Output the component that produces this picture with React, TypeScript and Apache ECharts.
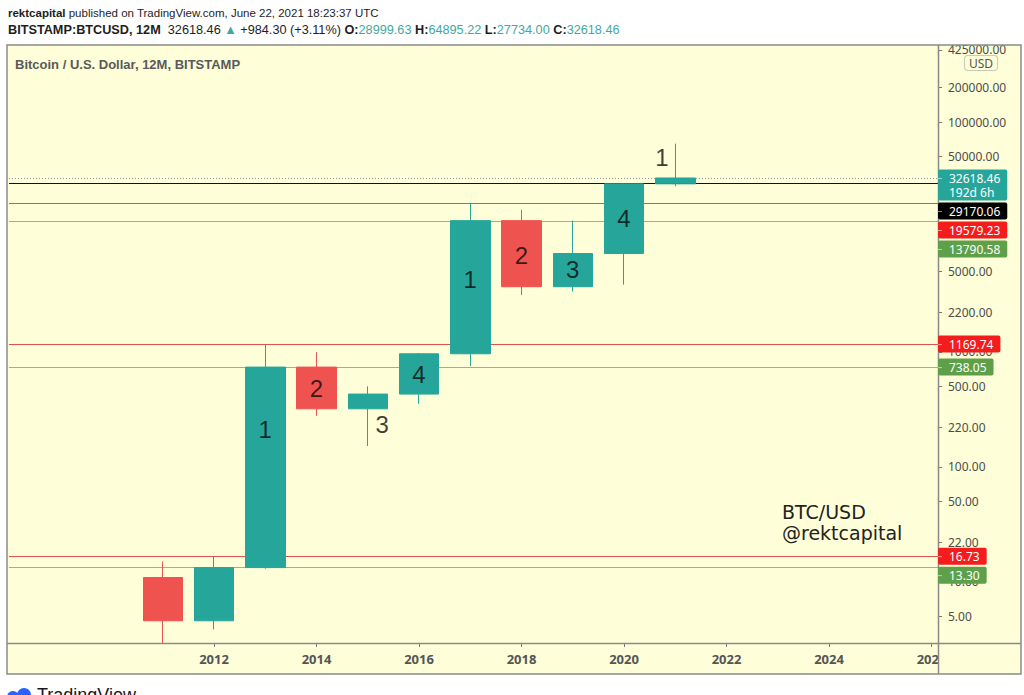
import React, { useEffect, useRef } from 'react';
import * as echarts from 'echarts';

// ---------- data ----------
const years = [2011, 2012, 2013, 2014, 2015, 2016, 2017, 2018, 2019, 2020, 2021];
const opens = [10.9, 4.58, 13.3, 738, 320, 430, 964, 13880, 3693, 7180, 28999.63];
const closes = [4.58, 13.3, 738, 320, 430, 964, 13880, 3693, 7180, 28999.63, 32618.46];
const lows = [2.0, 3.85, 13.0, 278, 152, 354, 753, 3122, 3350, 3850, 27734.0];
const highs = [15.0, 16.73, 1163, 995, 502, 980, 19666, 17252, 13880, 29300, 64895.22];

const yTickValues = [5, 10, 22, 50, 100, 220, 500, 1000, 2200, 5000, 50000, 100000, 200000, 425000];
const xTickValues = [2012, 2014, 2016, 2018, 2020, 2022, 2024, 2026];

const redLevels = [19579.23, 1169.74, 16.73];
const greenLevels = [13790.58, 738.05, 13.3];
const blackLevel = 29170.06;
const lastPrice = 32618.46;
const countdown = '192d 6h';

const annoYears = [2013, 2014, 2015.28, 2016, 2017, 2018, 2019, 2020, 2020.74];
const annoPrices = [210, 484, 235, 632, 4236, 6850, 5250, 14560, 49400];
const annoTexts = ['1', '2', '3', '4', '1', '2', '3', '4', '1'];

const headerLine1 = '{b|rektcapital} published on TradingView.com, June 22, 2021 18:23:37 UTC';
const headerLine2 =
  '{b|BITSTAMP:BTCUSD, 12M}  32618.46 {t|▲} +984.30 (+3.11%) {b|O:}{t|28999.63} {b|H:}{t|64895.22} {b|L:}{t|27734.00} {b|C:}{t|32618.46}';
const subtitle = 'Bitcoin / U.S. Dollar, 12M, BITSTAMP';
const watermark = 'BTC/USD\n@rektcapital';

// ---------- styles ----------
const YELLOW = '#fefed8';
const FRAME = '#8a8a8a';
const TEAL = '#26a69a';
const RED = '#ef5350';
const RED_LINE = '#e2504b';
const GREEN_LINE = '#8fbf6c';
const RED_BOX = '#f41c1c';
const GREEN_BOX = '#5e9f4a';
const HEAD_FONT = "'Liberation Sans', Arial, sans-serif";
const AXIS_FONT = "'Noto Sans', 'DejaVu Sans', sans-serif";

const GRID_LEFT = 9;
const GRID_RIGHT_X = 938;
const GRID_TOP = 45;
const GRID_BOTTOM_Y = 643;
const W = 1024;
const H = 695;

function levelSeries(levels: number[], color: string, type: any, z: number) {
  return {
    type: 'line',
    data: [],
    z,
    silent: true,
    markLine: {
      symbol: ['none', 'none'],
      silent: true,
      label: { show: false },
      emphasis: { disabled: true },
      lineStyle: { color, width: 1, type },
      data: levels.map((v) => ({ yAxis: v })),
    },
  };
}

export default function App() {
  const ref = useRef<HTMLDivElement>(null);

  useEffect(() => {
    const chart = echarts.init(ref.current!, undefined, { renderer: 'svg' });

    const candleData = years.map((y, i) => [y, opens[i], closes[i], lows[i], highs[i]]);
    const annoData = annoYears.map((x, i) => ({ value: [x, annoPrices[i]], name: annoTexts[i] }));

    chart.setOption({
      animation: false,
      backgroundColor: '#ffffff',
      grid: {
        left: GRID_LEFT,
        right: W - GRID_RIGHT_X,
        top: GRID_TOP,
        bottom: H - GRID_BOTTOM_Y,
      },
      xAxis: {
        type: 'value',
        z: 20,
        min: 2008,
        max: 2008 + (GRID_RIGHT_X - GRID_LEFT) / 51.25,
        splitLine: { show: false },
        axisLine: { show: false },
        axisTick: { show: true, length: 4, customValues: xTickValues, lineStyle: { color: '#777' } },
        axisLabel: {
          customValues: xTickValues,
          formatter: (v: number) => String(Math.round(v)),
          color: '#555',
          fontSize: 13,
          fontWeight: 'bold',
          fontFamily: AXIS_FONT,
          margin: 9,
        },
      },
      yAxis: {
        type: 'log',
        logBase: 10,
        min: 2.936,
        max: 468200,
        position: 'right',
        splitLine: { show: false },
        axisLine: { show: false },
        axisTick: { show: true, length: 4, customValues: yTickValues, lineStyle: { color: '#777' } },
        axisLabel: {
          customValues: yTickValues,
          formatter: (v: number) => Number(v).toFixed(2),
          color: '#4d4d4d',
          fontSize: 12,
          fontFamily: AXIS_FONT,
          margin: 10,
        },
      },
      series: [
        levelSeries(redLevels, RED_LINE, 'solid', 1),
        levelSeries(greenLevels, GREEN_LINE, 'solid', 1),
        levelSeries([blackLevel], '#111111', 'solid', 1),
        levelSeries([lastPrice], '#8a96a3', [1, 2], 1),
        {
          type: 'candlestick',
          z: 10,
          barWidth: 40,
          clip: true,
          encode: { x: 0, y: [1, 2, 3, 4] },
          data: candleData,
          itemStyle: {
            color: TEAL,
            color0: RED,
            borderColor: TEAL,
            borderColor0: RED,
            borderWidth: 1,
          },
        },
        {
          type: 'scatter',
          z: 12,
          symbol: 'circle',
          symbolSize: 1,
          itemStyle: { color: 'transparent' },
          silent: true,
          data: annoData,
          label: {
            show: true,
            position: 'inside',
            formatter: (p: any) => p.name,
            color: '#0a0a0a',
            fontSize: 24,
            fontFamily: "'Liberation Sans', Arial, sans-serif",
          },
        },
      ],
    });

    // price labels on the right scale, stacked to avoid overlap
    const labels = [
      { v: lastPrice, text: lastPrice.toFixed(2) + '\n' + countdown, bg: TEAL, lines: 2 },
      { v: blackLevel, text: blackLevel.toFixed(2), bg: '#000000', lines: 1 },
      ...redLevels.map((v) => ({ v, text: v.toFixed(2), bg: RED_BOX, lines: 1 })),
      ...greenLevels.map((v) => ({ v, text: v.toFixed(2), bg: GREEN_BOX, lines: 1 })),
    ].sort((a, b) => b.v - a.v);

    const labelEls: any[] = [];
    let prevBottom = -Infinity;
    labels.forEach((l) => {
      const py = chart.convertToPixel({ yAxisIndex: 0 }, l.v) as number;
      const h = l.lines * 14 + 3;
      const top = Math.max(py - 8.5, prevBottom + 2);
      prevBottom = top + h;
      labelEls.push({
        type: 'text',
        z: 60,
        x: GRID_RIGHT_X,
        y: top,
        style: {
          text: l.text,
          fill: '#ffffff',
          fontSize: 12,
          fontFamily: AXIS_FONT,
          lineHeight: 14,
          backgroundColor: l.bg,
          padding: [2, 7, 1, 11],
          borderRadius: 2,
          verticalAlign: 'top',
          align: 'left',
        },
      });
      labelEls.push({
        type: 'line',
        z: 61,
        shape: { x1: GRID_RIGHT_X, y1: top + 9, x2: GRID_RIGHT_X + 4, y2: top + 9 },
        style: { stroke: 'rgba(255,255,255,0.55)', lineWidth: 1 },
      });
    });

    chart.setOption({
      graphic: [
        {
          type: 'rect',
          z: -10,
          silent: true,
          shape: { x: 7, y: 45, width: 1014, height: 629 },
          style: { fill: YELLOW },
        },
        // time-scale band: hides wicks that run past the plot bottom
        {
          type: 'rect',
          z: 15,
          silent: true,
          shape: { x: 7, y: GRID_BOTTOM_Y + 1, width: GRID_RIGHT_X - 7, height: 30 },
          style: { fill: YELLOW },
        },
        // clip overlays
        {
          type: 'rect',
          z: 50,
          silent: true,
          shape: { x: GRID_RIGHT_X + 0.5, y: GRID_BOTTOM_Y + 1, width: 82, height: 30 },
          style: { fill: YELLOW },
        },
        {
          type: 'rect',
          z: 50,
          silent: true,
          shape: { x: GRID_RIGHT_X, y: 34, width: 86, height: 11 },
          style: { fill: '#ffffff' },
        },
        // frame
        {
          type: 'rect',
          z: 55,
          silent: true,
          shape: { x: 7, y: 45, width: 1014, height: 629 },
          style: { fill: 'none', stroke: FRAME, lineWidth: 1.5 },
        },
        {
          type: 'line',
          z: 55,
          silent: true,
          shape: { x1: 7, y1: GRID_BOTTOM_Y + 0.5, x2: 1021, y2: GRID_BOTTOM_Y + 0.5 },
          style: { stroke: FRAME, lineWidth: 1.5 },
        },
        {
          type: 'line',
          z: 55,
          silent: true,
          shape: { x1: GRID_RIGHT_X + 0.5, y1: 45, x2: GRID_RIGHT_X + 0.5, y2: 674 },
          style: { stroke: FRAME, lineWidth: 1.5 },
        },
        // USD badge
        {
          type: 'text',
          z: 56,
          x: 965,
          y: 56,
          style: {
            text: 'USD',
            fill: '#555',
            fontSize: 12,
            fontFamily: AXIS_FONT,
            backgroundColor: YELLOW,
            borderColor: '#c9c9b8',
            borderWidth: 1,
            borderRadius: 3,
            padding: [1, 4, 1, 4],
            verticalAlign: 'top',
          },
        },
        // header
        {
          type: 'text',
          z: 56,
          x: 8,
          y: 12.5,
          style: {
            text: headerLine1,
            fill: '#1e1e1e',
            fontSize: 11.5,
            fontFamily: HEAD_FONT,
            verticalAlign: 'middle',
            rich: {
              b: { fontSize: 11.5, fontFamily: HEAD_FONT, fontWeight: 'bold', fill: '#1e1e1e' },
            },
          },
        },
        {
          type: 'text',
          z: 56,
          x: 8,
          y: 29.5,
          style: {
            text: headerLine2,
            fill: '#1e1e1e',
            fontSize: 12.7,
            fontFamily: HEAD_FONT,
            verticalAlign: 'middle',
            rich: {
              b: { fontSize: 12.7, fontFamily: HEAD_FONT, fontWeight: 'bold', fill: '#1e1e1e' },
              t: { fontSize: 12.7, fontFamily: HEAD_FONT, fill: '#3fa99d' },
            },
          },
        },
        {
          type: 'text',
          z: 56,
          x: 15,
          y: 64,
          style: {
            text: subtitle,
            fill: '#5a5a5a',
            fontSize: 13,
            fontWeight: 'bold',
            fontFamily: HEAD_FONT,
            verticalAlign: 'middle',
          },
        },
        // watermark
        {
          type: 'text',
          z: 56,
          x: 782,
          y: 501,
          style: {
            text: watermark,
            fill: '#222',
            fontSize: 19,
            lineHeight: 21,
            fontFamily: "'DejaVu Sans', sans-serif",
            verticalAlign: 'top',
          },
        },
        // TradingView footer
        {
          type: 'circle',
          z: 56,
          shape: { cx: 13, cy: 697, r: 6 },
          style: { fill: '#2962ff' },
        },
        {
          type: 'circle',
          z: 56,
          shape: { cx: 24, cy: 695, r: 7 },
          style: { fill: '#2962ff' },
        },
        {
          type: 'text',
          z: 56,
          x: 37,
          y: 686,
          style: {
            text: 'TradingView',
            fill: '#131722',
            fontSize: 18,
            fontFamily: "'Liberation Sans', sans-serif",
            verticalAlign: 'top',
          },
        },
        ...labelEls,
      ],
    });

    return () => chart.dispose();
  }, []);

  return (
    <div
      ref={ref}
      style={{ position: 'fixed', left: 0, top: 0, width: W, height: H }}
    />
  );
}
